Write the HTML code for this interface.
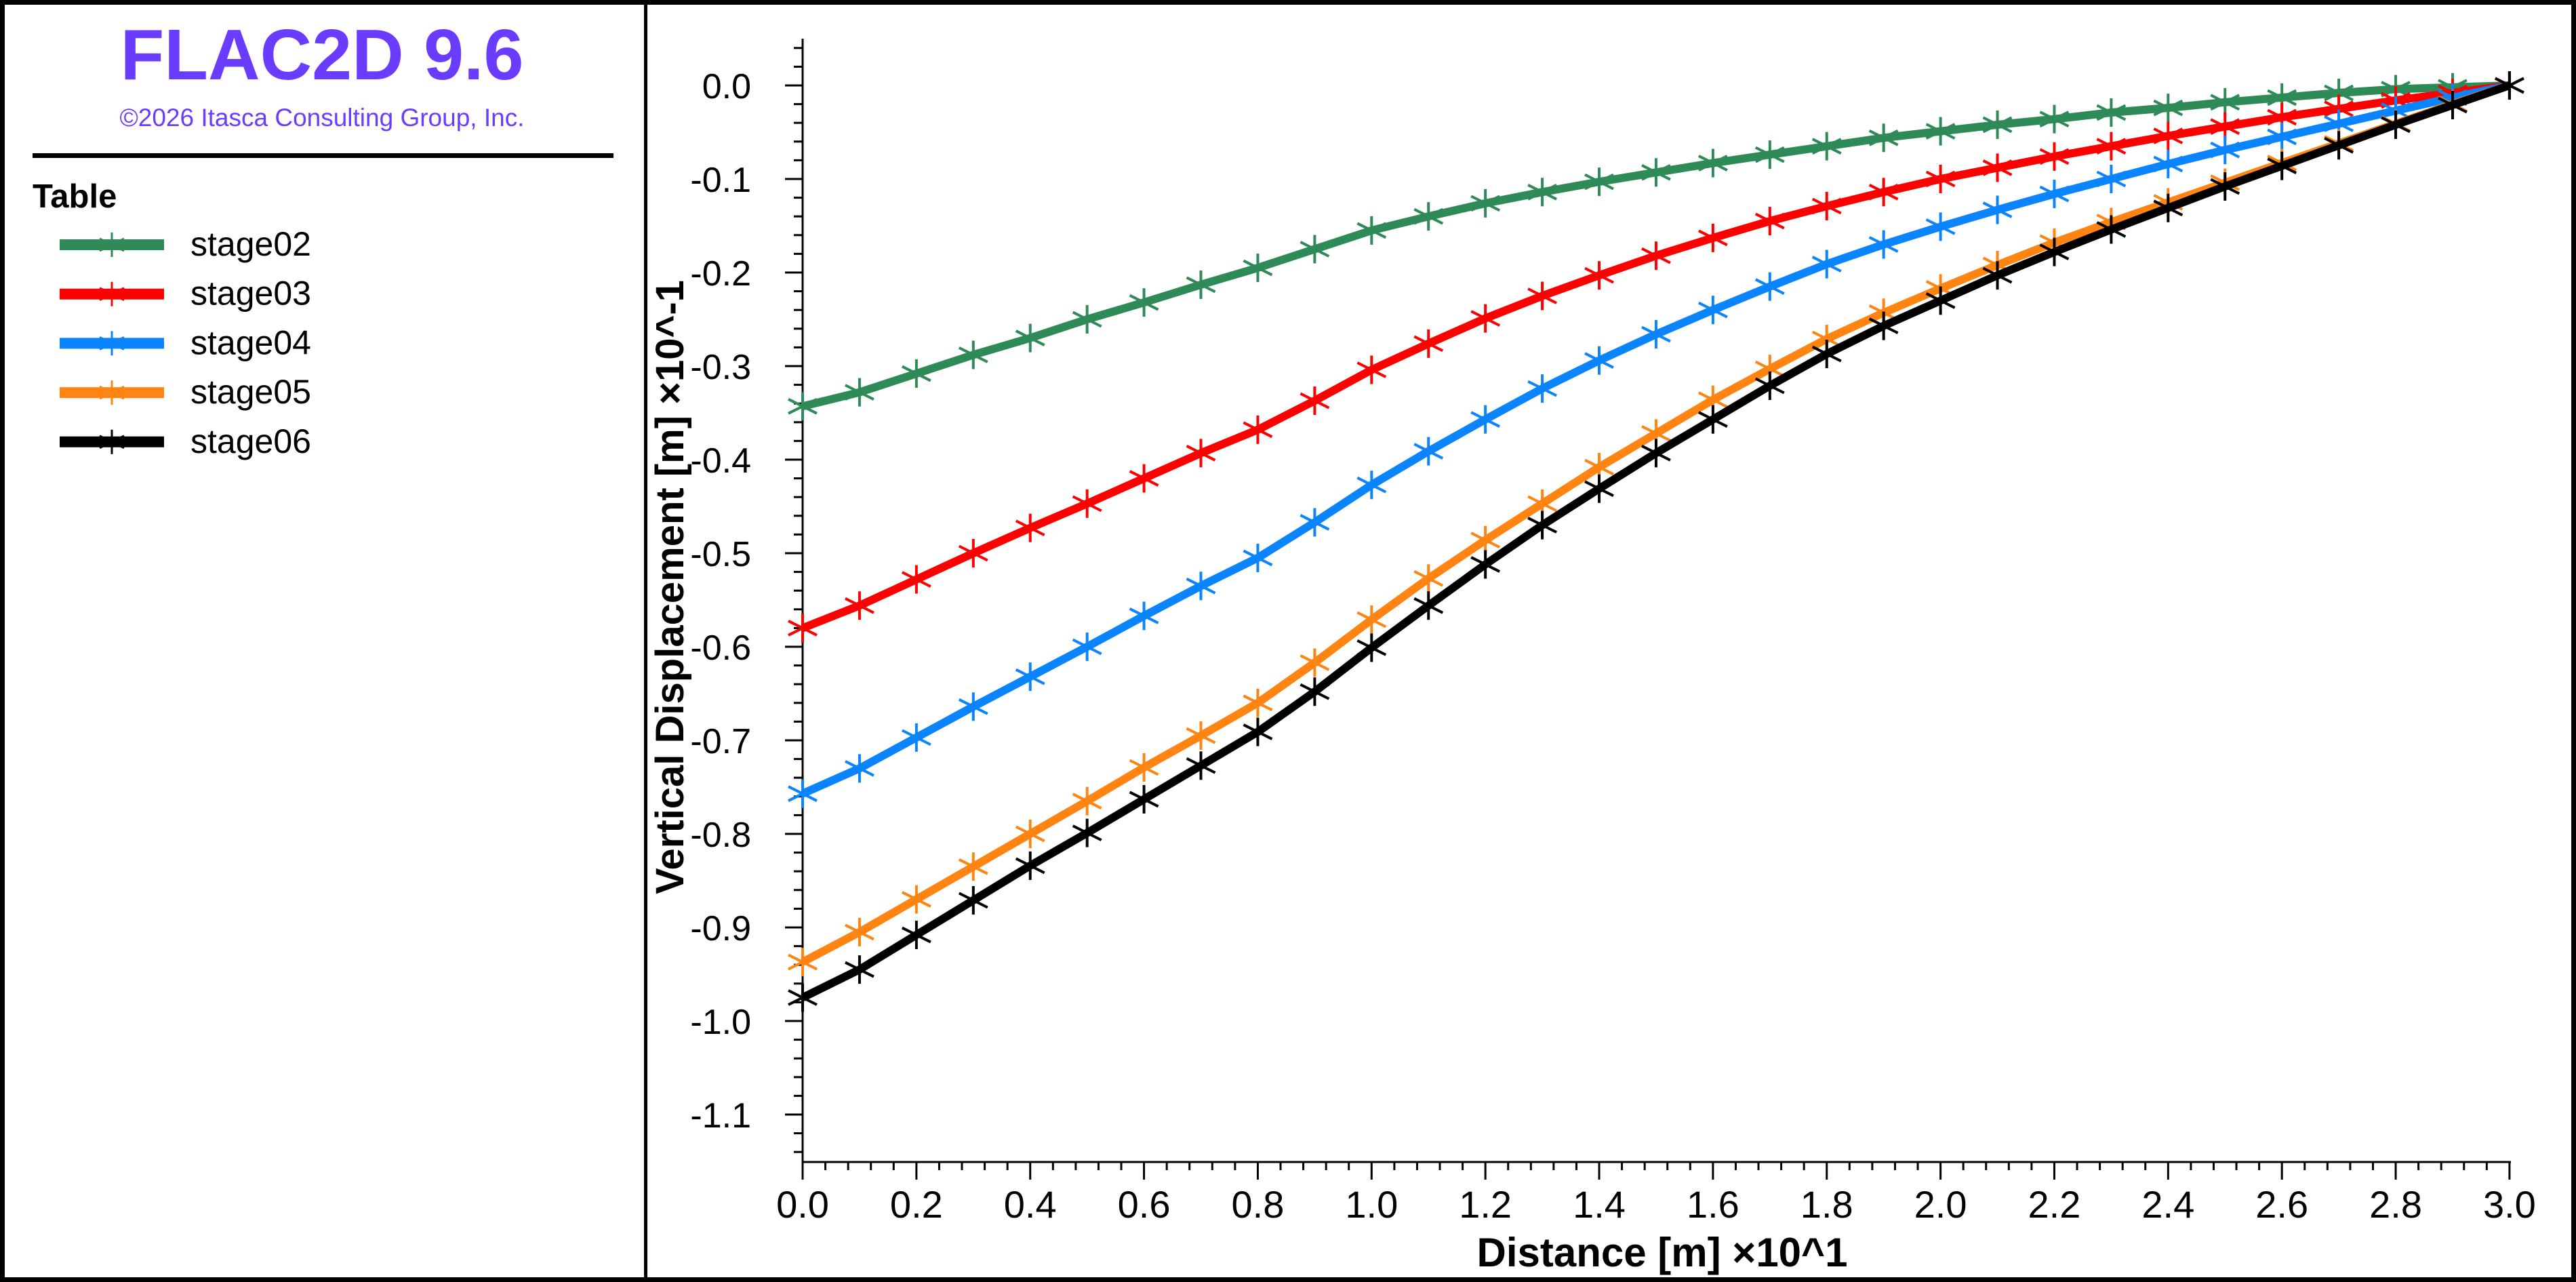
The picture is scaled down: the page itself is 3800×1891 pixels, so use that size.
<!DOCTYPE html>
<html><head><meta charset="utf-8"><style>
html,body{margin:0;padding:0;background:#fff;}
svg{display:block;}
</style></head><body>
<svg id="s" width="3800" height="1891" xmlns="http://www.w3.org/2000/svg" font-family="Liberation Sans, sans-serif">
<rect x="0" y="0" width="3800" height="1891" fill="#fff"/>
<rect x="3.5" y="3.5" width="3793" height="1884" fill="none" stroke="#000" stroke-width="7"/>
<rect x="950" y="0" width="5" height="1891" fill="#000"/>
<text x="475" y="117" text-anchor="middle" font-size="106" font-weight="bold" fill="#6a3cff">FLAC2D 9.6</text>
<text x="475" y="186" text-anchor="middle" font-size="37" fill="#6a3cff">©2026 Itasca Consulting Group, Inc.</text>
<rect x="48" y="226" width="857" height="7" fill="#000"/>
<text x="48" y="306" font-size="49" font-weight="bold">Table</text>
<g id="leg"></g>
<g id="axes"></g>
<g id="data"></g>
<text transform="translate(1008,866) rotate(-90)" text-anchor="middle" font-size="58" font-weight="bold">Vertical Displacement [m]  ×10^-1</text>
<text x="2452" y="1868" text-anchor="middle" font-size="60" font-weight="bold">Distance [m]  ×10^1</text>
</svg>
<script>
const NS="http://www.w3.org/2000/svg";
function el(p,t,a,txt){const e=document.createElementNS(NS,t);for(const k in a)e.setAttribute(k,a[k]);if(txt!==undefined)e.textContent=txt;p.appendChild(e);return e;}
const X0=1184,XS=839.3,Y0=126,YS=1380;
const X=v=>X0+v*XS, Y=v=>Y0-v*YS;
const ax=document.getElementById('axes');
el(ax,'line',{x1:X0,y1:57,x2:X0,y2:1714,stroke:'#000','stroke-width':3});
el(ax,'line',{x1:X0,y1:1714,x2:3704,y2:1714,stroke:'#000','stroke-width':3});
for(let i=-57;i<=2;i++){const v=i*0.02;const y=Y(v);const major=(i%5===0);
 el(ax,'line',{x1:major?X0-26:X0-13,y1:y,x2:X0,y2:y,stroke:'#000','stroke-width':3});
 if(major){el(ax,'text',{x:1108,y:y+19,'text-anchor':'end','font-size':52},(v).toFixed(1).replace('-0.0','0.0'));}
}
for(let i=0;i<=75;i++){const v=i*0.04;const x=X(v);const major=(i%5===0);
 el(ax,'line',{x1:x,y1:1714,x2:x,y2:major?1740:1726,stroke:'#000','stroke-width':3});
 if(major){el(ax,'text',{x:x,y:1796,'text-anchor':'middle','font-size':56},(v).toFixed(1));}
}
const series=[
['#2e8b57',[-0.343,-0.328,-0.308,-0.288,-0.270,-0.250,-0.232,-0.213,-0.195,-0.175,-0.155,-0.140,-0.126,-0.114,-0.103,-0.093,-0.083,-0.074,-0.065,-0.056,-0.049,-0.042,-0.036,-0.029,-0.024,-0.018,-0.013,-0.008,-0.004,-0.002,0]],
['#ff0000',[-0.580,-0.556,-0.528,-0.500,-0.473,-0.447,-0.420,-0.393,-0.368,-0.337,-0.304,-0.276,-0.249,-0.225,-0.203,-0.182,-0.163,-0.145,-0.129,-0.114,-0.100,-0.088,-0.076,-0.065,-0.054,-0.044,-0.034,-0.025,-0.016,-0.008,0]],
['#0a84ff',[-0.757,-0.730,-0.697,-0.664,-0.632,-0.600,-0.567,-0.535,-0.505,-0.467,-0.427,-0.391,-0.357,-0.324,-0.294,-0.266,-0.240,-0.215,-0.191,-0.170,-0.151,-0.133,-0.116,-0.100,-0.084,-0.069,-0.055,-0.041,-0.027,-0.013,0]],
['#ff8412',[-0.937,-0.905,-0.870,-0.835,-0.800,-0.765,-0.729,-0.695,-0.660,-0.617,-0.571,-0.527,-0.486,-0.447,-0.408,-0.372,-0.336,-0.303,-0.271,-0.243,-0.217,-0.192,-0.168,-0.146,-0.125,-0.104,-0.083,-0.062,-0.041,-0.020,0]],
['#000000',[-0.975,-0.945,-0.908,-0.871,-0.834,-0.799,-0.763,-0.727,-0.691,-0.648,-0.601,-0.556,-0.512,-0.470,-0.431,-0.393,-0.357,-0.321,-0.287,-0.257,-0.230,-0.203,-0.178,-0.154,-0.131,-0.108,-0.086,-0.064,-0.042,-0.021,0]]
];
const dg=document.getElementById('data'), lg=document.getElementById('leg');
function star(p,x,y,c,s,w){
 el(p,'line',{x1:x,y1:y-s,x2:x,y2:y+s,stroke:c,'stroke-width':w});
 el(p,'line',{x1:x-s,y1:y-s*0.5,x2:x+s,y2:y+s*0.5,stroke:c,'stroke-width':w});
 el(p,'line',{x1:x-s,y1:y+s*0.5,x2:x+s,y2:y-s*0.5,stroke:c,'stroke-width':w});
}
const names=['stage02','stage03','stage04','stage05','stage06'];
series.forEach((s,k)=>{
 const c=s[0],d=s[1];
 const pts=d.map((v,i)=>X(i*0.1)+','+Y(v)).join(' ');
 el(dg,'polyline',{points:pts,fill:'none',stroke:c,'stroke-width':12,'stroke-linejoin':'round'});
 d.forEach((v,i)=>star(dg,X(i*0.1),Y(v),c,21,4));
 const ly=361+k*72.7;
 el(lg,'line',{x1:88,y1:ly,x2:242,y2:ly,stroke:c,'stroke-width':16});
 star(lg,165,ly,c,18,3);
 el(lg,'text',{x:281,y:ly+16,'font-size':50},names[k]);
});
</script>
</body></html>
